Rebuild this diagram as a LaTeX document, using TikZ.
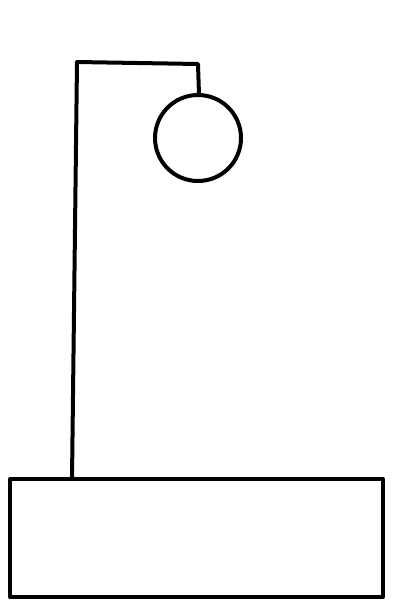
\documentclass[tikz,border=0pt]{standalone}
\usepackage{tikz}

\begin{document}
\begin{tikzpicture}[
  x=0.5pt,y=-0.5pt,
  stroke/.style={draw=black,line width=2pt,line cap=round,line join=round}
]
\useasboundingbox (0,0) rectangle (400,600);

% base and lamp
\draw[stroke] (10,479) rectangle (383,597);
\coordinate (foot) at (72,479);
\coordinate (top) at (77,62);
\coordinate (bend) at (198,64);
\coordinate (hook) at (199,95);

\draw[stroke] (foot) -- (top) -- (bend) -- (hook);
\draw[stroke] (198,138) circle[radius=43];
\end{tikzpicture}
\end{document}
